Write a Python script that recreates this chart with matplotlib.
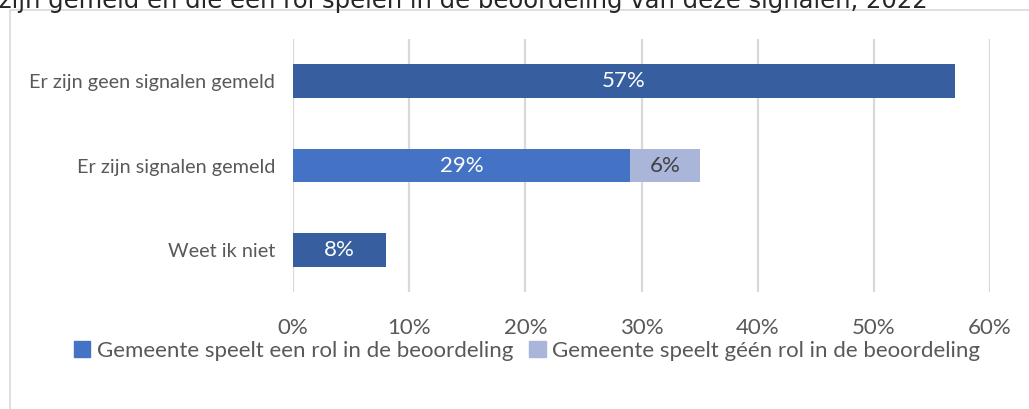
import matplotlib.pyplot as plt
from matplotlib.patches import Rectangle, Patch

categories = ['Er zijn geen signalen gemeld', 'Er zijn signalen gemeld', 'Weet ik niet']
rol_een = [57, 29, 8]
rol_geen = [0, 6, 0]
series_names = ['Gemeente speelt een rol in de beoordeling',
                'Gemeente speelt géén rol in de beoordeling']
title = 'zijn gemeld en die een rol spelen in de beoordeling van deze signalen, 2022'
xticks = [0, 10, 20, 30, 40, 50, 60]

dark_blue = '#375FA0'
mid_blue = '#4472C4'
light_blue = '#A9B6DA'
text_grey = '#595959'
een_colors = [dark_blue, mid_blue, dark_blue]

plt.rcParams['font.family'] = ['Lato', 'DejaVu Sans']

W, H = 1029, 409
fig = plt.figure(figsize=(W / 100, H / 100), dpi=100)

# chart border (cut off at right and bottom)
fig.patches.append(Rectangle((10 / W, -0.05), 1.1, (H - 10) / H + 0.05,
                             transform=fig.transFigure, fill=False,
                             edgecolor='#D9D9D9', linewidth=1.2))

# title, mostly cut off at the top
fig.text(-1 / W, 1 + 11 / H, title, family='DejaVu Sans', fontsize=17.5,
         color='#262626', ha='left', va='top')

ax = fig.add_axes([293 / W, (H - 292) / H, (990 - 293) / W, 253 / H])
y = list(range(len(categories)))
ax.barh(y, rol_een, height=0.4, color=een_colors, zorder=3)
ax.barh(y, rol_geen, left=rol_een, height=0.4, color=light_blue, zorder=3)

for i in y:
    if rol_een[i] > 0:
        ax.text(rol_een[i] / 2, i, f'{rol_een[i]}%', color='white',
                ha='center', va='center', fontsize=16, zorder=4)
    if rol_geen[i] > 0:
        ax.text(rol_een[i] + rol_geen[i] / 2, i, f'{rol_geen[i]}%',
                color='#404040', ha='center', va='center', fontsize=16, zorder=4)

ax.set_xlim(0, 60)
ax.set_ylim(2.5, -0.5)
ax.set_xticks(xticks)
ax.set_xticklabels([f'{t}%' for t in xticks], color=text_grey, fontsize=16)
ax.set_yticks(y)
ax.set_yticklabels(categories, color=text_grey, fontsize=14.3)
ax.tick_params(axis='x', length=0, pad=19)
ax.tick_params(axis='y', length=0, pad=13)
ax.grid(axis='x', color='#D9D9D9', linewidth=1.6, zorder=0)
for s in ax.spines.values():
    s.set_visible(False)

handles = [Patch(color=mid_blue), Patch(color=light_blue)]
fig.legend(handles, series_names, loc='center', bbox_to_anchor=(527 / W, (H - 351) / H),
           ncol=2, frameon=False, fontsize=16, labelcolor=text_grey,
           handlelength=0.75, handleheight=0.75, handletextpad=0.3, columnspacing=0.7)

fig.savefig('out.png', dpi=100)
